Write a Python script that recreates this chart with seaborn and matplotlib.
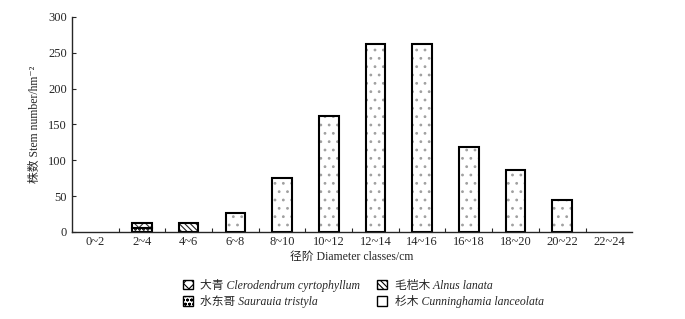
import pandas as pd
import numpy as np
import matplotlib
matplotlib.use("Agg")
import matplotlib.pyplot as plt
from matplotlib.patches import Patch
import seaborn as sns

# ---------- 数据 ----------
classes = ["0~2", "2~4", "4~6", "6~8", "8~10", "10~12", "12~14",
           "14~16", "16~18", "18~20", "20~22", "22~24"]
# 杉木 Cunninghamia lanceolata
shanmu = [np.nan, np.nan, np.nan, 26, 75, 162, 262, 262, 119, 87, 44, np.nan]
# 水东哥 Saurauia tristyla (下层)
shuidongge = [np.nan, 6, np.nan, np.nan, np.nan, np.nan, np.nan,
              np.nan, np.nan, np.nan, np.nan, np.nan]
# 大青 Clerodendrum cyrtophyllum (叠在水东哥上)
daqing = [np.nan, 6, np.nan, np.nan, np.nan, np.nan, np.nan,
          np.nan, np.nan, np.nan, np.nan, np.nan]
# 毛桤木 Alnus lanata
maoqimu = [np.nan, np.nan, 12, np.nan, np.nan, np.nan, np.nan,
           np.nan, np.nan, np.nan, np.nan, np.nan]

labels = {
    "daqing": "大青 Clerodendrum cyrtophyllum",
    "maoqimu": "毛桤木 Alnus lanata",
    "shuidongge": "水东哥 Saurauia tristyla",
    "shanmu": "杉木 Cunninghamia lanceolata",
}

SERIF = ["Liberation Serif", "Noto Sans CJK SC", "DejaVu Serif"]

sns.set_style("ticks")
plt.rcParams["font.family"] = SERIF
plt.rcParams["hatch.linewidth"] = 0.8

fig = plt.figure(figsize=(6.85, 3.19), dpi=100)
ax = fig.add_axes([0.105, 0.273, 0.818, 0.674])

df = pd.DataFrame({"cls": classes, "shanmu": shanmu, "shuidongge": shuidongge,
                   "daqing": daqing, "maoqimu": maoqimu})

W = 0.42


def draw(col, hatch, hcolor, bottom=None):
    kw = {} if bottom is None else {"bottom": bottom}
    # 填充纹理
    sns.barplot(data=df, x="cls", y=col, order=classes, width=W, color="white",
                edgecolor=hcolor, hatch=hatch, linewidth=0, ax=ax, **kw)
    # 黑色边框
    sns.barplot(data=df, x="cls", y=col, order=classes, width=W, color="white",
                fill=False, edgecolor="black", linewidth=1.5, ax=ax, **kw)


# 大青叠在水东哥之上：底部取水东哥的值（只对有数据的径阶）
mask = df["daqing"].notna()
bottom_daqing = df.loc[mask, "shuidongge"].fillna(0).to_numpy()

draw("shanmu", "..", "#a0a0a0")
draw("shuidongge", "oooo", "#333333")
draw("daqing", "xxx", "#333333", bottom=bottom_daqing)
draw("maoqimu", "\\\\\\\\\\\\", "#222222")

ax.set_ylim(0, 300)
ax.set_xlim(-0.5, len(classes) - 0.5)
ax.set_yticks([0, 50, 100, 150, 200, 250, 300])
ax.set_xticks(np.arange(len(classes)))
ax.set_xticklabels(classes)
ax.set_xticks(np.arange(len(classes) - 1) + 0.5, minor=True)
ax.tick_params(axis="x", which="major", length=0, labelsize=9, pad=3)
ax.tick_params(axis="x", which="minor", direction="in", length=3, width=0.8)
ax.tick_params(axis="y", direction="in", length=3, width=0.8, labelsize=9)
sns.despine(ax=ax)
for s in ["left", "bottom"]:
    ax.spines[s].set_linewidth(1.0)

ax.set_xlabel("径阶 Diameter classes/cm", fontsize=8.5, labelpad=2)
ax.set_ylabel("株数 Stem number/hm⁻²", fontsize=8.5, labelpad=5)

# ---------- 图例 ----------
handles = [
    Patch(facecolor="white", edgecolor="black", hatch="xxx", linewidth=1),
    Patch(facecolor="white", edgecolor="black", hatch="oooo", linewidth=1),
    Patch(facecolor="white", edgecolor="black", hatch="\\\\\\\\\\\\", linewidth=1),
    Patch(facecolor="white", edgecolor="black", linewidth=1),
]
names = [labels["daqing"], labels["shuidongge"], labels["maoqimu"], labels["shanmu"]]
fig.legend(handles, names, loc="upper center", bbox_to_anchor=(0.53, 0.16),
           ncol=2, frameon=False, handlelength=0.9, handleheight=0.9,
           handletextpad=0.6, columnspacing=1.4, labelspacing=0.3,
           prop={"family": SERIF, "style": "italic", "size": 8.5})

fig.savefig("out.png", dpi=100)
